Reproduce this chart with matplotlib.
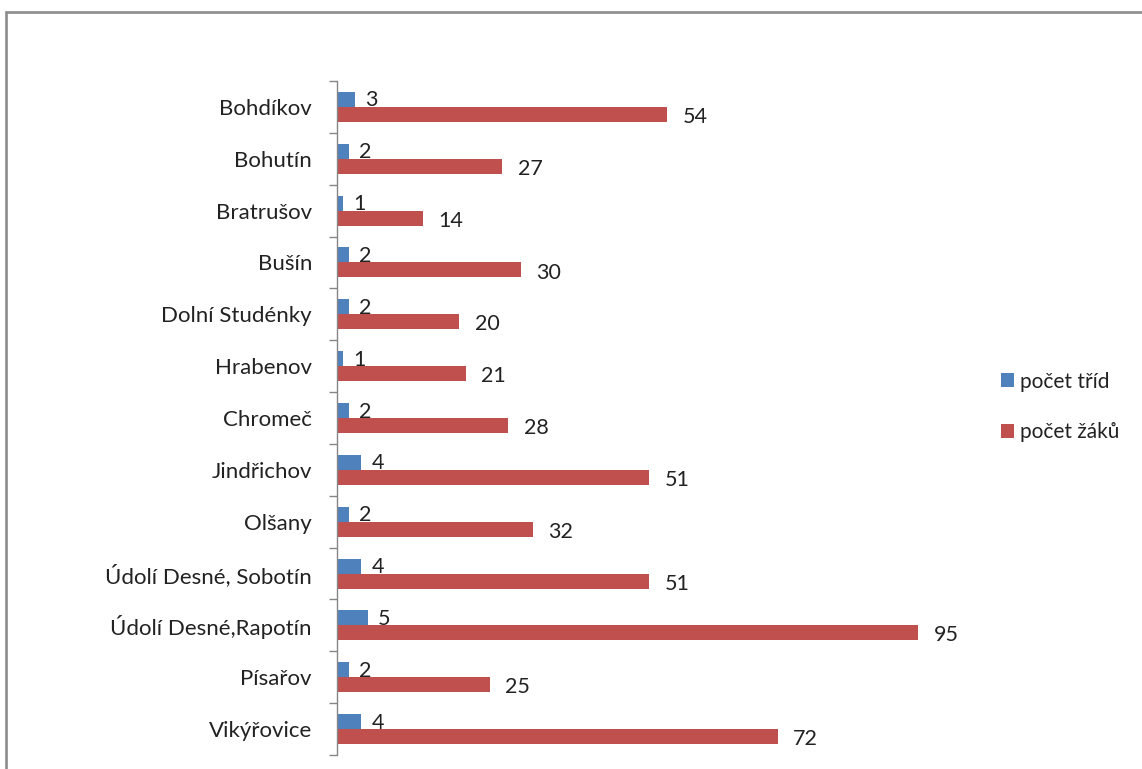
import numpy as np
import matplotlib
matplotlib.use("Agg")
import matplotlib.pyplot as plt
from matplotlib.patches import Rectangle

plt.rcParams['font.family'] = ['Lato', 'DejaVu Sans']

obce = ['Bohdíkov', 'Bohutín', 'Bratrušov', 'Bušín', 'Dolní Studénky', 'Hrabenov',
        'Chromeč', 'Jindřichov', 'Olšany', 'Údolí Desné, Sobotín', 'Údolí Desné,Rapotín',
        'Písařov', 'Vikýřovice']
tridy = [3, 2, 1, 2, 2, 1, 2, 4, 2, 4, 5, 2, 4]
zaci = [54, 27, 14, 30, 20, 21, 28, 51, 32, 51, 95, 25, 72]

blue = '#4f81bd'
red = '#c0504d'

fig = plt.figure(figsize=(11.42, 7.69), dpi=100)
# outer chart frame (runs off the right and bottom edge)
fig.patches.append(Rectangle((6 / 1142, -0.1), 1.2, 1 - 12 / 769 + 0.1,
                             transform=fig.transFigure, fill=False,
                             edgecolor='#8c8c8c', linewidth=1.9))

ax = fig.add_axes([337 / 1142, 14 / 769, 612 / 1142, 674 / 769])
y = np.arange(len(obce))
h = 0.29
ax.barh(y - h / 2, tridy, height=h, color=blue, label='počet tříd')
ax.barh(y + h / 2, zaci, height=h, color=red, label='počet žáků')

for i in range(len(obce)):
    ax.text(tridy[i] + 1.6, y[i] - h / 2 + 0.02, str(tridy[i]), va='center', ha='left',
            fontsize=15.5, color='#222222')
    ax.text(zaci[i] + 2.5, y[i] + h / 2 + 0.05, str(zaci[i]), va='center', ha='left',
            fontsize=15.5, color='#222222')

ax.set_xlim(0, 100)
ax.set_ylim(len(obce) - 0.5, -0.5)
ax.set_yticks(y)
ax.set_yticklabels(obce, fontsize=16, color='#222222')
ax.set_yticks(np.arange(-0.5, len(obce), 1), minor=True)
ax.tick_params(axis='y', which='major', length=0, pad=18)
ax.tick_params(axis='y', which='minor', length=6, color='#868686', width=1)
ax.xaxis.set_visible(False)
for s in ['top', 'right', 'bottom']:
    ax.spines[s].set_visible(False)
ax.spines['left'].set_color('#868686')
ax.spines['left'].set_linewidth(1)

leg = fig.legend(loc='upper left', bbox_to_anchor=(982 / 1142, 1 - 353 / 769),
                 frameon=False, fontsize=15, handlelength=0.65, handleheight=0.65,
                 handletextpad=0.25, labelspacing=1.45)
for t in leg.get_texts():
    t.set_color('#222222')

fig.savefig('out.png', dpi=100)
